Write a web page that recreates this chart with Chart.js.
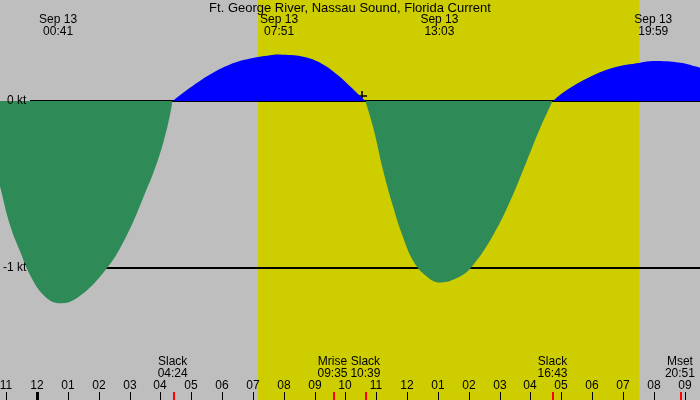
<!DOCTYPE html>
<html>
<head>
<meta charset="utf-8">
<script src="https://cdn.jsdelivr.net/npm/chart.js@4/dist/chart.umd.min.js"></script>
<style>
  body { margin: 0; background: #bebebe; }
  #chart { display: block; }
</style>
</head>
<body>
<canvas id="chart" width="700" height="400"></canvas>
<script>
// current in knots (hours from midnight Sep 13)
const hours = [-1.2, -0.88, -0.55, -0.23, 0.2, 0.68, 1.3, 2.27, 2.92, 3.44, 3.89, 4.22, 4.4,
  4.96, 5.61, 6.26, 6.91, 7.56, 7.85, 8.63, 9.18, 9.73, 10.15, 10.65,
  10.91, 11.23, 11.56, 11.88, 12.21, 12.64, 13.05, 13.72, 14.15, 14.8, 15.34, 15.88, 16.31, 16.72,
  17.18, 17.94, 18.68, 19.56, 19.98, 20.86, 21.41, 21.5];
const knots = [-0.51, -0.74, -0.9, -1.04, -1.16, -1.21, -1.18, -1.0, -0.8, -0.58, -0.37, -0.16, 0,
  0.079, 0.159, 0.219, 0.254, 0.274, 0.278, 0.265, 0.229, 0.159, 0.089, 0,
  -0.164, -0.42, -0.64, -0.82, -0.96, -1.05, -1.086, -1.05, -0.98, -0.8, -0.6, -0.36, -0.164, 0,
  0.066, 0.146, 0.2, 0.23, 0.24, 0.23, 0.205, 0.2];

const title = "Ft. George River, Nassau Sound, Florida Current";
const peakTimes = ["00:41", "07:51", "13:03", "19:59"];
const eventNames = ["Slack", "Mrise", "Slack", "Slack", "Mset"];
const eventTimes = ["04:24", "09:35", "10:39", "16:43", "20:51"];
const sunrise = "07:10";
const sunset = "19:32";
const nowMark = [{ x: 10.54, y: 0.03 }];
const tickHours = [-1, 0, 1, 2, 3, 4, 5, 6, 7, 8, 9, 10, 11, 12, 13, 14, 15, 16, 17, 18, 19, 20, 21];
const tickLabels = ["11", "12", "01", "02", "03", "04", "05", "06", "07", "08", "09", "10", "11",
  "12", "01", "02", "03", "04", "05", "06", "07", "08", "09"];
const levelLines = [0, -1];
const levelLabels = ["0 kt", "-1 kt"];

function toHours(s) {
  var p = s.split(":");
  return parseInt(p[0], 10) + parseInt(p[1], 10) / 60;
}

// one dataset per flood / ebb, split at the slack points so the kinks stay sharp
var segments = [];
var seg = [];
for (var i = 0; i < hours.length; i++) {
  seg.push({ x: hours[i], y: knots[i] });
  if (knots[i] === 0 && seg.length > 1) {
    segments.push(seg);
    seg = [{ x: hours[i], y: 0 }];
  }
}
if (seg.length > 1) segments.push(seg);

const FONT = "12px 'Liberation Sans', Arial, sans-serif";

const tidePlugin = {
  id: "tide",
  beforeDraw(chart) {
    const c = chart.ctx, x = chart.scales.x;
    c.save();
    c.fillStyle = "#bebebe";
    c.fillRect(0, 0, chart.width, chart.height);
    const x1 = x.getPixelForValue(toHours(sunrise));
    const x2 = x.getPixelForValue(toHours(sunset));
    c.fillStyle = "#cdcd00";
    c.fillRect(x1, 0, x2 - x1, chart.height);
    c.restore();
  },
  beforeDatasetsDraw(chart) {
    const c = chart.ctx, y = chart.scales.y;
    c.save();
    c.strokeStyle = "#000";
    c.lineWidth = 2;
    levelLines.forEach(function (v) {
      const py = Math.round(y.getPixelForValue(v));
      c.beginPath();
      c.moveTo(30, py);
      c.lineTo(chart.width, py);
      c.stroke();
    });
    c.restore();
  },
  afterDatasetsDraw(chart) {
    const c = chart.ctx, x = chart.scales.x, y = chart.scales.y;
    c.save();
    c.font = FONT;
    c.fillStyle = "#000";
    c.textBaseline = "middle";

    // level labels
    c.textAlign = "left";
    c.fillText(levelLabels[0], 7, y.getPixelForValue(levelLines[0]));
    c.fillText(levelLabels[1], 3, y.getPixelForValue(levelLines[1]));

    // title and max/min times
    c.textAlign = "center";
    c.font = "13px 'Liberation Sans', Arial, sans-serif";
    c.fillText(title, 350, 8);
    c.font = FONT;
    peakTimes.forEach(function (t) {
      const px = x.getPixelForValue(toHours(t));
      c.fillText("Sep 13", px, 20);
      c.fillText(t, px, 32);
    });

    // slack / moon events
    eventNames.forEach(function (n, i) {
      const px = x.getPixelForValue(toHours(eventTimes[i]));
      c.fillText(n, px, 362);
      c.fillText(eventTimes[i], px, 374);
    });

    // hour ticks
    tickHours.forEach(function (h, i) {
      const px = Math.round(x.getPixelForValue(h));
      c.fillText(tickLabels[i], px, 386);
      if (h === 0) c.fillRect(px - 1, 392, 3, 8);
      else c.fillRect(px, 392, 1, 8);
    });

    // red event ticks
    c.fillStyle = "#ff0000";
    eventTimes.forEach(function (t) {
      const px = Math.round(x.getPixelForValue(toHours(t)));
      c.fillRect(px, 392, 2, 8);
    });
    c.restore();
  }
};

var datasets = segments.map(function (s) {
  return {
    data: s,
    borderWidth: 0,
    pointRadius: 0,
    tension: 0.4,
    fill: { target: "origin", above: "#0000ff", below: "#2e8b57" }
  };
});
datasets.push({
  type: "scatter",
  data: nowMark,
  pointStyle: "cross",
  pointRadius: 5,
  borderColor: "#000",
  borderWidth: 1.5
});

const ctx = document.getElementById("chart").getContext("2d");
const chart = new Chart(ctx, {
  type: "line",
  data: { datasets: datasets },
  options: {
    responsive: false,
    animation: false,
    devicePixelRatio: 1,
    layout: { padding: 0, autoPadding: false },
    plugins: { legend: { display: false }, tooltip: { enabled: false } },
    scales: {
      x: { type: "linear", min: -1.2, max: 21.5, display: false },
      y: { min: -1.79, max: 0.605, display: false }
    }
  },
  plugins: [tidePlugin]
});
</script>
</body>
</html>
